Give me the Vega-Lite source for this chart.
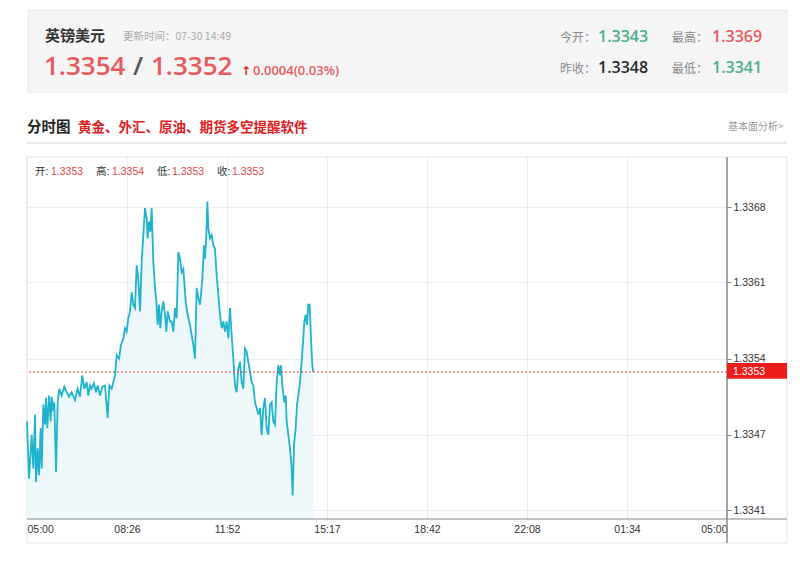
{
  "$schema": "https://vega.github.io/schema/vega-lite/v6.json",
  "width": 700,
  "height": 362,
  "autosize": {"type": "none"},
  "padding": {"left": 27, "top": 157, "right": 73, "bottom": 43},
  "background": "#ffffff",
  "config": {"view": {"stroke": null}, "font": "Liberation Sans"},
  "data": {"values": [
    {"minute":0,"price":1.33486},{"minute":4.1,"price":1.33435},{"minute":9.6,"price":1.33474},{"minute":13.0,"price":1.33444},{"minute":16.5,"price":1.33492},{"minute":18.5,"price":1.33432},{"minute":21.9,"price":1.33462},{"minute":24.7,"price":1.33438},{"minute":28.1,"price":1.33480},{"minute":30.2,"price":1.33444},{"minute":33.6,"price":1.33501},{"minute":37.0,"price":1.33483},{"minute":39.1,"price":1.33507},{"minute":41.8,"price":1.33480},{"minute":45.3,"price":1.33509},{"minute":48.7,"price":1.33486},{"minute":50.7,"price":1.33508},{"minute":54.2,"price":1.33495},{"minute":56.2,"price":1.33503},{"minute":59.7,"price":1.33441},{"minute":63.1,"price":1.33503},{"minute":66.5,"price":1.33515},{"minute":71.3,"price":1.33509},{"minute":76.8,"price":1.33517},{"minute":81.6,"price":1.33512},{"minute":86.4,"price":1.33508},{"minute":91.9,"price":1.33512},{"minute":98.7,"price":1.33505},{"minute":104.2,"price":1.33515},{"minute":109.0,"price":1.33508},{"minute":113.8,"price":1.33527},{"minute":117.9,"price":1.33515},{"minute":122.7,"price":1.33521},{"minute":126.2,"price":1.33509},{"minute":129.6,"price":1.33518},{"minute":133.0,"price":1.33515},{"minute":137.8,"price":1.33520},{"minute":141.9,"price":1.33512},{"minute":145.4,"price":1.33518},{"minute":150.2,"price":1.33509},{"minute":155.0,"price":1.33517},{"minute":160.5,"price":1.33518},{"minute":165.9,"price":1.33489},{"minute":169.4,"price":1.33518},{"minute":174.2,"price":1.33515},{"minute":177.6,"price":1.33521},{"minute":181.0,"price":1.33527},{"minute":184.5,"price":1.33545},{"minute":189.3,"price":1.33542},{"minute":193.4,"price":1.33554},{"minute":198.2,"price":1.33560},{"minute":201.6,"price":1.33569},{"minute":205.0,"price":1.33566},{"minute":208.4,"price":1.33578},{"minute":211.9,"price":1.33584},{"minute":215.3,"price":1.33601},{"minute":218.7,"price":1.33590},{"minute":222.2,"price":1.33587},{"minute":225.6,"price":1.33625},{"minute":229.0,"price":1.33613},{"minute":232.5,"price":1.33584},{"minute":235.9,"price":1.33628},{"minute":239.3,"price":1.33652},{"minute":242.7,"price":1.33676},{"minute":246.2,"price":1.33667},{"minute":248.2,"price":1.33649},{"minute":251.0,"price":1.33664},{"minute":253.7,"price":1.33655},{"minute":256.5,"price":1.33676},{"minute":259.9,"price":1.33628},{"minute":263.3,"price":1.33605},{"minute":266.1,"price":1.33593},{"minute":268.8,"price":1.33572},{"minute":271.5,"price":1.33590},{"minute":274.3,"price":1.33569},{"minute":277.0,"price":1.33584},{"minute":280.4,"price":1.33593},{"minute":283.9,"price":1.33581},{"minute":286.6,"price":1.33566},{"minute":289.4,"price":1.33584},{"minute":294.2,"price":1.33575},{"minute":297.6,"price":1.33575},{"minute":301.0,"price":1.33566},{"minute":304.5,"price":1.33587},{"minute":307.9,"price":1.33578},{"minute":311.3,"price":1.33637},{"minute":314.7,"price":1.33631},{"minute":318.2,"price":1.33619},{"minute":321.6,"price":1.33622},{"minute":323.6,"price":1.33610},{"minute":326.4,"price":1.33593},{"minute":330.5,"price":1.33581},{"minute":335.3,"price":1.33572},{"minute":338.7,"price":1.33563},{"minute":342.2,"price":1.33554},{"minute":345.6,"price":1.33542},{"minute":349.0,"price":1.33605},{"minute":352.4,"price":1.33596},{"minute":355.9,"price":1.33590},{"minute":357.9,"price":1.33599},{"minute":360.7,"price":1.33613},{"minute":364.1,"price":1.33643},{"minute":366.2,"price":1.33631},{"minute":368.9,"price":1.33652},{"minute":371.0,"price":1.33682},{"minute":373.0,"price":1.33658},{"minute":376.5,"price":1.33649},{"minute":379.9,"price":1.33652},{"minute":383.3,"price":1.33643},{"minute":386.7,"price":1.33640},{"minute":390.2,"price":1.33616},{"minute":393.6,"price":1.33599},{"minute":397.0,"price":1.33581},{"minute":400.5,"price":1.33569},{"minute":403.9,"price":1.33575},{"minute":407.3,"price":1.33566},{"minute":410.7,"price":1.33575},{"minute":414.2,"price":1.33560},{"minute":417.6,"price":1.33587},{"minute":421.0,"price":1.33563},{"minute":424.4,"price":1.33542},{"minute":427.9,"price":1.33518},{"minute":431.3,"price":1.33512},{"minute":434.7,"price":1.33533},{"minute":438.2,"price":1.33539},{"minute":441.6,"price":1.33521},{"minute":445.0,"price":1.33515},{"minute":448.4,"price":1.33551},{"minute":451.9,"price":1.33548},{"minute":455.3,"price":1.33539},{"minute":458.7,"price":1.33530},{"minute":462.2,"price":1.33521},{"minute":465.6,"price":1.33518},{"minute":469.0,"price":1.33503},{"minute":472.4,"price":1.33498},{"minute":475.9,"price":1.33492},{"minute":479.3,"price":1.33498},{"minute":482.7,"price":1.33474},{"minute":486.2,"price":1.33498},{"minute":489.6,"price":1.33507},{"minute":493.0,"price":1.33480},{"minute":496.4,"price":1.33474},{"minute":499.9,"price":1.33501},{"minute":503.3,"price":1.33503},{"minute":506.7,"price":1.33486},{"minute":510.2,"price":1.33483},{"minute":513.6,"price":1.33521},{"minute":517.0,"price":1.33536},{"minute":520.4,"price":1.33527},{"minute":522.5,"price":1.33536},{"minute":525.2,"price":1.33518},{"minute":529.4,"price":1.33503},{"minute":532.1,"price":1.33509},{"minute":534.2,"price":1.33486},{"minute":537.6,"price":1.33474},{"minute":541.0,"price":1.33462},{"minute":544.5,"price":1.33444},{"minute":546.5,"price":1.33420},{"minute":549.2,"price":1.33465},{"minute":552.7,"price":1.33480},{"minute":555.4,"price":1.33501},{"minute":558.2,"price":1.33509},{"minute":561.6,"price":1.33521},{"minute":565.0,"price":1.33539},{"minute":568.4,"price":1.33560},{"minute":570.5,"price":1.33575},{"minute":573.2,"price":1.33581},{"minute":576.0,"price":1.33572},{"minute":578.7,"price":1.33590},{"minute":581.5,"price":1.33590},{"minute":584.2,"price":1.33560},{"minute":586.9,"price":1.33536},{"minute":589.0,"price":1.33530}
  ]},
  "layer": [
    {
      "data": {"values": [{}]},
      "layer": [
        {"mark": {"type": "rect", "fill": "#f5f5f5", "stroke": "#e8e8e8", "strokeWidth": 1},
         "encoding": {"x": {"value": 1}, "x2": {"value": 760}, "y": {"value": -147}, "y2": {"value": -65}}},
        {"mark": {"type": "rect", "fill": "transparent", "stroke": "#e4e4e4", "strokeWidth": 1},
         "encoding": {"x": {"value": 0}, "x2": {"value": 760}, "y": {"value": 0}, "y2": {"value": 386}}},
        {"mark": {"type": "rule", "color": "#e2e2e2", "strokeWidth": 1.5},
         "encoding": {"x": {"value": 0}, "x2": {"value": 760}, "y": {"value": -14}}}
      ]
    },
    {
      "mark": {"type": "area", "color": "#eef8fb", "opacity": 1},
      "encoding": {
        "x": {"field": "minute", "type": "quantitative"},
        "y": {"field": "price", "type": "quantitative"},
        "y2": {"datum": 1.33399}
      }
    },
    {
      "mark": {"type": "line", "color": "#1fb3cd", "strokeWidth": 1.8},
      "encoding": {
        "x": {"field": "minute", "type": "quantitative",
              "scale": {"domain": [0, 1440], "nice": false, "zero": false},
              "axis": {"title": null, "orient": "bottom",
                       "values": [0, 205.714286, 411.428571, 617.142857, 822.857143, 1028.571429, 1234.285714, 1440],
                       "labelExpr": "['05:00','08:26','11:52','15:17','18:42','22:08','01:34','05:00'][round(datum.value/205.714286)]",
                       "labelFlush": true, "labelFont": "Liberation Sans", "labelFontSize": 10.5, "labelColor": "#333",
                       "labelPadding": 5, "ticks": false, "domain": false,
                       "grid": true, "gridColor": "#ededed", "gridWidth": 1}},
        "y": {"field": "price", "type": "quantitative",
              "scale": {"domain": [1.33399, 1.337216], "nice": false, "zero": false},
              "axis": {"title": null, "orient": "right",
                       "values": [1.33407, 1.33474, 1.33542, 1.3361, 1.33677],
                       "format": ".4f", "labelFont": "Liberation Sans", "labelFontSize": 10.5, "labelColor": "#333",
                       "labelPadding": 2, "ticks": true, "tickSize": 4, "tickColor": "#888",
                       "domain": false, "grid": true, "gridColor": "#ededed", "gridWidth": 1}}
      }
    },
    {
      "data": {"values": [{}]},
      "layer": [
        {"mark": {"type": "rule", "color": "#e23b3b", "strokeWidth": 1, "strokeDash": [2, 2]},
         "encoding": {"y": {"datum": 1.3353}}},
        {"mark": {"type": "rule", "color": "#888888", "strokeWidth": 1.5},
         "encoding": {"x": {"datum": 1440}, "y": {"value": 0}, "y2": {"value": 386}}},
        {"mark": {"type": "rule", "color": "#888888", "strokeWidth": 1.2},
         "encoding": {"y": {"value": 362}, "x": {"value": 0}, "x2": {"value": 760}}},
        {"mark": {"type": "rect", "fill": "#ee1d1d"},
         "encoding": {"x": {"datum": 1440}, "x2": {"value": 760}, "y": {"datum": 1.33538}, "y2": {"datum": 1.33524}}},
        {"mark": {"type": "text", "text": "1.3353", "color": "#ffffff", "align": "left", "baseline": "middle", "dx": 6, "font": "Liberation Sans", "fontSize": 10.5},
         "encoding": {"x": {"datum": 1440}, "y": {"datum": 1.3353}}},

        {"mark": {"type": "text", "text": "开:", "color": "#333", "align": "left", "baseline": "alphabetic", "font": "Liberation Sans, Noto Sans CJK SC", "fontSize": 10.5}, "encoding": {"x": {"value": 8}, "y": {"value": 18}}},
        {"mark": {"type": "text", "text": "1.3353", "color": "#e04848", "align": "left", "baseline": "alphabetic", "font": "Liberation Sans", "fontSize": 10.5}, "encoding": {"x": {"value": 24}, "y": {"value": 18}}},
        {"mark": {"type": "text", "text": "高:", "color": "#333", "align": "left", "baseline": "alphabetic", "font": "Liberation Sans, Noto Sans CJK SC", "fontSize": 10.5}, "encoding": {"x": {"value": 69}, "y": {"value": 18}}},
        {"mark": {"type": "text", "text": "1.3354", "color": "#e04848", "align": "left", "baseline": "alphabetic", "font": "Liberation Sans", "fontSize": 10.5}, "encoding": {"x": {"value": 85}, "y": {"value": 18}}},
        {"mark": {"type": "text", "text": "低:", "color": "#333", "align": "left", "baseline": "alphabetic", "font": "Liberation Sans, Noto Sans CJK SC", "fontSize": 10.5}, "encoding": {"x": {"value": 130}, "y": {"value": 18}}},
        {"mark": {"type": "text", "text": "1.3353", "color": "#e04848", "align": "left", "baseline": "alphabetic", "font": "Liberation Sans", "fontSize": 10.5}, "encoding": {"x": {"value": 145}, "y": {"value": 18}}},
        {"mark": {"type": "text", "text": "收:", "color": "#333", "align": "left", "baseline": "alphabetic", "font": "Liberation Sans, Noto Sans CJK SC", "fontSize": 10.5}, "encoding": {"x": {"value": 190}, "y": {"value": 18}}},
        {"mark": {"type": "text", "text": "1.3353", "color": "#e04848", "align": "left", "baseline": "alphabetic", "font": "Liberation Sans", "fontSize": 10.5}, "encoding": {"x": {"value": 205}, "y": {"value": 18}}},

        {"mark": {"type": "text", "text": "英镑美元", "color": "#333", "fontWeight": "bold", "align": "left", "baseline": "alphabetic", "font": "Noto Sans CJK SC", "fontSize": 15}, "encoding": {"x": {"value": 18}, "y": {"value": -116}}},
        {"mark": {"type": "text", "text": "更新时间：07-30 14:49", "color": "#aaaaaa", "align": "left", "baseline": "alphabetic", "font": "Noto Sans CJK SC", "fontSize": 10.5}, "encoding": {"x": {"value": 96}, "y": {"value": -117}}},
        {"mark": {"type": "text", "text": "1.3354", "color": "#e85a60", "fontWeight": 600, "align": "left", "baseline": "alphabetic", "font": "Open Sans", "fontSize": 26}, "encoding": {"x": {"value": 17}, "y": {"value": -82}}},
        {"mark": {"type": "text", "text": "/", "color": "#555555", "fontWeight": 600, "align": "left", "baseline": "alphabetic", "font": "Open Sans", "fontSize": 26}, "encoding": {"x": {"value": 106}, "y": {"value": -82}}},
        {"mark": {"type": "text", "text": "1.3352", "color": "#e85a60", "fontWeight": 600, "align": "left", "baseline": "alphabetic", "font": "Open Sans", "fontSize": 26}, "encoding": {"x": {"value": 124}, "y": {"value": -82}}},
        {"mark": {"type": "text", "text": "↑", "color": "#e02020", "fontWeight": "bold", "align": "left", "baseline": "alphabetic", "font": "DejaVu Sans", "fontSize": 12}, "encoding": {"x": {"value": 214}, "y": {"value": -82}}},
        {"mark": {"type": "text", "text": "0.0004(0.03%)", "color": "#e85a60", "fontWeight": 600, "align": "left", "baseline": "alphabetic", "font": "Open Sans", "fontSize": 13}, "encoding": {"x": {"value": 226}, "y": {"value": -82}}},
        {"mark": {"type": "text", "text": "今开：", "color": "#888888", "align": "left", "baseline": "alphabetic", "font": "Noto Sans CJK SC", "fontSize": 12}, "encoding": {"x": {"value": 533}, "y": {"value": -115}}},
        {"mark": {"type": "text", "text": "1.3343", "color": "#4cae8a", "fontWeight": 600, "align": "left", "baseline": "alphabetic", "font": "Open Sans", "fontSize": 16}, "encoding": {"x": {"value": 571}, "y": {"value": -115}}},
        {"mark": {"type": "text", "text": "最高：", "color": "#888888", "align": "left", "baseline": "alphabetic", "font": "Noto Sans CJK SC", "fontSize": 12}, "encoding": {"x": {"value": 645}, "y": {"value": -115}}},
        {"mark": {"type": "text", "text": "1.3369", "color": "#e85a60", "fontWeight": 600, "align": "left", "baseline": "alphabetic", "font": "Open Sans", "fontSize": 16}, "encoding": {"x": {"value": 685}, "y": {"value": -115}}},
        {"mark": {"type": "text", "text": "昨收：", "color": "#888888", "align": "left", "baseline": "alphabetic", "font": "Noto Sans CJK SC", "fontSize": 12}, "encoding": {"x": {"value": 533}, "y": {"value": -84}}},
        {"mark": {"type": "text", "text": "1.3348", "color": "#2a2a2a", "fontWeight": 600, "align": "left", "baseline": "alphabetic", "font": "Open Sans", "fontSize": 16}, "encoding": {"x": {"value": 571}, "y": {"value": -84}}},
        {"mark": {"type": "text", "text": "最低：", "color": "#888888", "align": "left", "baseline": "alphabetic", "font": "Noto Sans CJK SC", "fontSize": 12}, "encoding": {"x": {"value": 645}, "y": {"value": -84}}},
        {"mark": {"type": "text", "text": "1.3341", "color": "#4cae8a", "fontWeight": 600, "align": "left", "baseline": "alphabetic", "font": "Open Sans", "fontSize": 16}, "encoding": {"x": {"value": 685}, "y": {"value": -84}}},
        {"mark": {"type": "text", "text": "分时图", "color": "#222222", "fontWeight": "bold", "align": "left", "baseline": "alphabetic", "font": "Noto Sans CJK SC", "fontSize": 14.5}, "encoding": {"x": {"value": 0}, "y": {"value": -25}}},
        {"mark": {"type": "text", "text": "黄金、外汇、原油、期货多空提醒软件", "color": "#e0201e", "fontWeight": "bold", "align": "left", "baseline": "alphabetic", "font": "Noto Sans CJK SC", "fontSize": 13.5}, "encoding": {"x": {"value": 51}, "y": {"value": -25}}},
        {"mark": {"type": "text", "text": "基本面分析>", "color": "#999999", "align": "left", "baseline": "alphabetic", "font": "Noto Sans CJK SC", "fontSize": 10}, "encoding": {"x": {"value": 701}, "y": {"value": -27}}}
      ]
    }
  ]
}
